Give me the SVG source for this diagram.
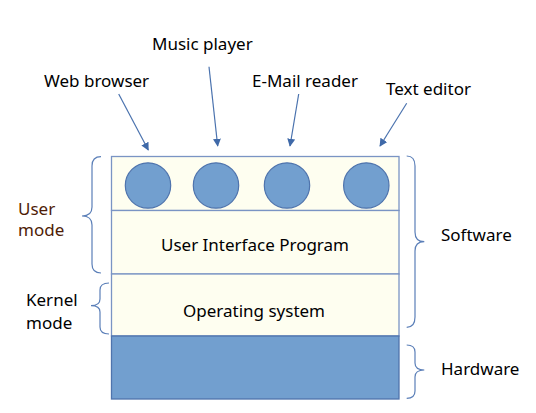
<svg xmlns="http://www.w3.org/2000/svg" width="536" height="413" viewBox="0 0 536 413">
<defs>
<style>
text{font-family:"Noto Sans","Open Sans","DejaVu Sans",sans-serif;font-size:17px;fill:#000}
.layer{fill:#fefef0;stroke:#7a94c4;stroke-width:1.3}
.hw{fill:#729fcf;stroke:#4f74ad;stroke-width:1.3}
.app{fill:#729fcf;stroke:#4f74ad;stroke-width:1.2}
.brace{fill:none;stroke:#5b7fb8;stroke-width:1.2}
.arrow{fill:none;stroke:#4a72ae;stroke-width:1.2;marker-end:url(#ah)}
.um{fill:#4e1c06}
</style>
<marker id="ah" viewBox="0 0 10 10" refX="9" refY="5" markerWidth="8" markerHeight="8" orient="auto" markerUnits="userSpaceOnUse">
<path d="M0,0 L10,5 L0,10 z" fill="#3f69a8"/>
</marker>
</defs>
<rect width="536" height="413" fill="#fff"/>
<g id="apps-layer">
<rect class="layer" x="111.5" y="156.5" width="287.5" height="54"/>
<circle class="app" cx="148" cy="185.5" r="22.7"/>
<circle class="app" cx="216" cy="185.5" r="22.7"/>
<circle class="app" cx="287" cy="185.5" r="22.7"/>
<circle class="app" cx="366.3" cy="185.5" r="22.7"/>
</g>
<g id="ui-program">
<rect class="layer" x="111.5" y="210.5" width="287.5" height="63.5"/>
<text x="255" y="251" text-anchor="middle">User Interface Program</text>
</g>
<g id="operating-system">
<rect class="layer" x="111.5" y="274" width="287.5" height="62"/>
<text x="254" y="317" text-anchor="middle">Operating system</text>
</g>
<g id="hardware-layer">
<rect class="hw" x="111.5" y="336" width="287.5" height="63"/>
</g>
<g id="labels">
<text x="44" y="87">Web browser</text>
<text x="152" y="50">Music player</text>
<text x="252" y="87">E-Mail reader</text>
<text x="386" y="95">Text editor</text>
<text class="um" x="18" y="215">User</text>
<text class="um" x="18" y="236">mode</text>
<text x="26" y="306">Kernel</text>
<text x="26" y="329">mode</text>
<text x="441" y="241">Software</text>
<text x="441" y="375">Hardware</text>
</g>
<g id="connectors">
<line class="arrow" x1="118.7" y1="94" x2="148.3" y2="150"/>
<line class="arrow" x1="209" y1="66.7" x2="217.7" y2="146"/>
<line class="arrow" x1="298.7" y1="94" x2="290" y2="146"/>
<line class="arrow" x1="406.7" y1="103.3" x2="380" y2="146"/>
<path class="brace" d="M101,156.7 Q92,156.7 92,166 L92,207 Q92,216 82,216 Q92,216 92,225 L92,264 Q92,273 101,273"/>
<path class="brace" d="M109,283 Q100,283 100,290 L100,299 Q100,305.7 91,305.7 Q100,305.7 100,312 L100,327 Q100,334 109,334"/>
<path class="brace" d="M406.7,156 Q415,156 415,166 L415,232 Q415,241.7 424.3,241.7 Q415,241.7 415,251 L415,317 Q415,327.3 406.7,327.3"/>
<path class="brace" d="M406.7,345 Q415,345 415,352 L415,363 Q415,370 424.3,370 Q415,370 415,377 L415,391 Q415,398.3 406.7,398.3"/>
</g>
</svg>
